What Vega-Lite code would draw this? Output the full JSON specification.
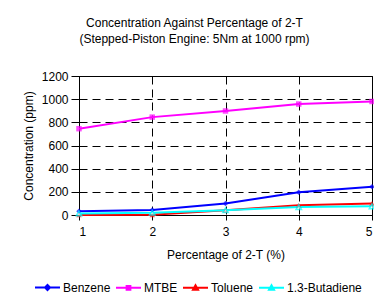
{
  "$schema": "https://vega.github.io/schema/vega-lite/v6.json",
  "width": 293,
  "height": 139,
  "autosize": "none",
  "padding": {"left": 79, "top": 76, "right": 2, "bottom": 84},
  "background": "white",
  "config": {
    "font": "Liberation Sans",
    "view": {"stroke": "black", "strokeWidth": 1},
    "axis": {
      "labelFont": "Liberation Sans", "labelFontSize": 12, "labelColor": "black",
      "titleFont": "Liberation Sans", "titleFontSize": 12, "titleFontWeight": "normal", "titleColor": "black",
      "domainColor": "black", "tickColor": "black",
      "gridColor": "black", "gridDash": [8, 5], "gridOpacity": 1, "gridWidth": 1
    },
    "legend": {"labelFont": "Liberation Sans", "labelFontSize": 12, "labelColor": "black"}
  },
  "title": {
    "text": ["Concentration Against Percentage of 2-T", "(Stepped-Piston Engine: 5Nm at 1000 rpm)"],
    "font": "Liberation Sans", "fontSize": 12, "fontWeight": "normal", "color": "black",
    "anchor": "middle", "dx": -31, "offset": 24, "lineHeight": 16
  },
  "data": {
    "values": [
      {"pct": 1, "series": "Benzene", "ppm": 32},
      {"pct": 2, "series": "Benzene", "ppm": 44},
      {"pct": 3, "series": "Benzene", "ppm": 100},
      {"pct": 4, "series": "Benzene", "ppm": 196},
      {"pct": 5, "series": "Benzene", "ppm": 243},
      {"pct": 1, "series": "MTBE", "ppm": 745},
      {"pct": 2, "series": "MTBE", "ppm": 845},
      {"pct": 3, "series": "MTBE", "ppm": 898},
      {"pct": 4, "series": "MTBE", "ppm": 958},
      {"pct": 5, "series": "MTBE", "ppm": 980},
      {"pct": 1, "series": "Toluene", "ppm": 0},
      {"pct": 2, "series": "Toluene", "ppm": 2},
      {"pct": 3, "series": "Toluene", "ppm": 40},
      {"pct": 4, "series": "Toluene", "ppm": 84},
      {"pct": 5, "series": "Toluene", "ppm": 100},
      {"pct": 1, "series": "1.3-Butadiene", "ppm": 14},
      {"pct": 2, "series": "1.3-Butadiene", "ppm": 20},
      {"pct": 3, "series": "1.3-Butadiene", "ppm": 42},
      {"pct": 4, "series": "1.3-Butadiene", "ppm": 68},
      {"pct": 5, "series": "1.3-Butadiene", "ppm": 75}
    ]
  },
  "encoding": {
    "x": {
      "field": "pct", "type": "quantitative",
      "scale": {"domain": [1, 5], "nice": false},
      "axis": {"values": [1, 2, 3, 4, 5], "format": "d", "title": "Percentage of 2-T (%)", "tickSize": 5, "labelPadding": 6, "titlePadding": 12}
    },
    "y": {
      "field": "ppm", "type": "quantitative",
      "scale": {"domain": [0, 1200], "nice": false},
      "axis": {"values": [0, 200, 400, 600, 800, 1000, 1200], "format": "d", "title": "Concentration (ppm)", "tickSize": 8, "labelPadding": 3, "titlePadding": 6}
    },
    "color": {
      "field": "series", "type": "nominal",
      "scale": {"domain": ["Benzene", "MTBE", "Toluene", "1.3-Butadiene"], "range": ["#0000FF", "#FF00FF", "#FF0000", "#00FFFF"]},
      "legend": {
        "title": null, "orient": "none", "legendX": -45, "legendY": 198, "direction": "horizontal", "columns": 4,
        "symbolSize": 625, "symbolStrokeWidth": 2, "columnPadding": 1, "labelOffset": 2,
        "encoding": {
          "symbols": {
            "shape": {"value": {"expr": "datum.value === 'Benzene' ? 'M-1,0H1M0,-0.2L0.2,0L0,0.2L-0.2,0Z' : datum.value === 'MTBE' ? 'M-1,0H1M-0.15,-0.15H0.15V0.15H-0.15Z' : 'M-1,0H1M0,-0.2L0.2,0.15L-0.2,0.15Z'"}},
            "fill": {"value": {"expr": "scale('color', datum.value)"}},
            "fillOpacity": {"value": {"expr": "datum.value === '1.3-Butadiene' ? 0 : 1"}},
            "stroke": {"value": {"expr": "scale('color', datum.value)"}},
            "strokeWidth": {"value": 2}
          }
        }
      }
    }
  },
  "layer": [
    {"mark": {"type": "line", "strokeWidth": 2}},
    {
      "transform": [{"filter": "datum.series === 'Benzene'"}],
      "mark": {"type": "point", "shape": "diamond", "filled": true, "size": 30, "color": "#0000FF"}
    },
    {
      "transform": [{"filter": "datum.series === 'MTBE'"}],
      "mark": {"type": "point", "shape": "square", "filled": true, "size": 30, "color": "#FF00FF"}
    },
    {
      "transform": [{"filter": "datum.series === 'Toluene'"}],
      "mark": {"type": "point", "shape": "triangle-up", "filled": true, "size": 30, "color": "#FF0000"}
    },
    {
      "transform": [{"filter": "datum.series === '1.3-Butadiene'"}],
      "mark": {"type": "point", "shape": "triangle-up", "filled": true, "size": 30, "fill": "white", "stroke": "#00FFFF", "strokeWidth": 1.5}
    }
  ]
}
